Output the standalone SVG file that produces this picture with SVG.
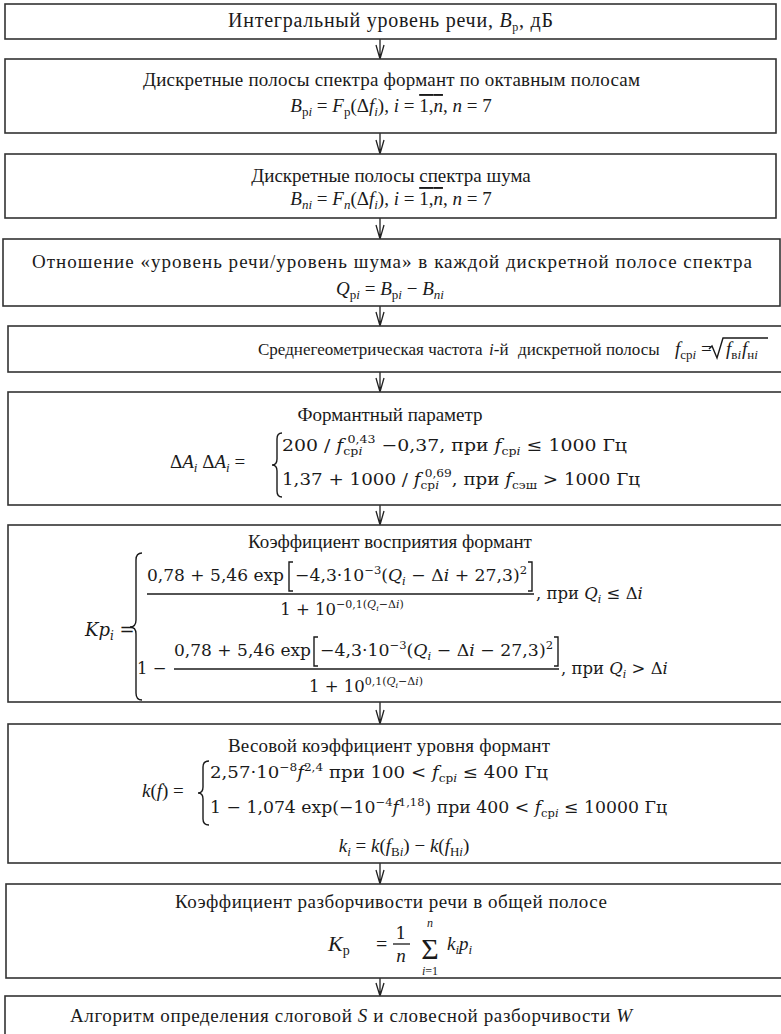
<svg xmlns="http://www.w3.org/2000/svg" width="781" height="1034" viewBox="0 0 781 1034">
<style>
.box{fill:#fff;stroke:#333;stroke-width:1.6}
.t{font-family:"Liberation Serif",serif;fill:#1a1a1a}
.m{font-family:"DejaVu Serif",serif;fill:#1a1a1a}
.i{font-style:italic}
.br{fill:none;stroke:#1a1a1a;stroke-width:1.4}
.bar{stroke:#1a1a1a;stroke-width:1.3}
.conn{fill:none;stroke:#222;stroke-width:1.3}
</style>
<rect width="781" height="1034" fill="#fff"/>
<g id="connectors" class="conn">
<path d="M380,39 V59 M376,45 L380,59 L384,45"/>
<path d="M380,133 V154 M376,140 L380,154 L384,140"/>
<path d="M380,218 V239 M376,225 L380,239 L384,225"/>
<path d="M380,306 V326 M376,312 L380,326 L384,312"/>
<path d="M380,372 V392 M376,378 L380,392 L384,378"/>
<path d="M380,505 V525 M376,511 L380,525 L384,511"/>
<path d="M380,702 V724 M376,710 L380,724 L384,710"/>
<path d="M380,863 V884 M376,870 L380,884 L384,870"/>
<path d="M380,978 V996 M376,983 L380,996 L384,983"/>
</g>
<g font-size="19">
<g id="n1">
<rect class="box" x="5" y="4" width="771" height="35"/>
<text class="t" x="228" y="27" font-size="20" textLength="325">Интегральный уровень речи, <tspan class="i">B</tspan><tspan font-size="12" dy="4">р</tspan><tspan dy="-4">, дБ</tspan></text>
</g>
<g id="n2">
<rect class="box" x="5" y="59" width="771" height="74"/>
<text class="t" x="143" y="86" textLength="497">Дискретные полосы спектра формант по октавным полосам</text>
<text class="t" x="391" y="112" text-anchor="middle"><tspan class="i">B</tspan><tspan font-size="13" dy="4">p<tspan class="i">i</tspan></tspan><tspan dy="-4"> = </tspan><tspan class="i">F</tspan><tspan font-size="13" dy="4">p</tspan><tspan dy="-4">(Δ</tspan><tspan class="i">f</tspan><tspan font-size="13" dy="4" class="i">i</tspan><tspan dy="-4">), </tspan><tspan class="i">i</tspan> = <tspan style="text-decoration:overline">1,<tspan class="i">n</tspan></tspan>, <tspan class="i">n</tspan> = 7</text>
</g>
<g id="n3">
<rect class="box" x="5" y="154" width="771" height="64"/>
<text class="t" x="391" y="182" text-anchor="middle">Дискретные полосы спектра шума</text>
<text class="t" x="391" y="205" text-anchor="middle"><tspan class="i">B</tspan><tspan font-size="13" dy="4" class="i">ni</tspan><tspan dy="-4"> = </tspan><tspan class="i">F</tspan><tspan font-size="13" dy="4" class="i">n</tspan><tspan dy="-4">(Δ</tspan><tspan class="i">f</tspan><tspan font-size="13" dy="4" class="i">i</tspan><tspan dy="-4">), </tspan><tspan class="i">i</tspan> = <tspan style="text-decoration:overline">1,<tspan class="i">n</tspan></tspan>, <tspan class="i">n</tspan> = 7</text>
</g>
<g id="n4">
<rect class="box" x="3" y="239" width="777" height="67"/>
<text class="t" x="32" y="268" textLength="720">Отношение  «уровень речи/уровень шума» в каждой дискретной полосе спектра</text>
<text class="t" x="390" y="295" text-anchor="middle"><tspan class="i">Q</tspan><tspan font-size="13" dy="4">p<tspan class="i">i</tspan></tspan><tspan dy="-4"> = </tspan><tspan class="i">B</tspan><tspan font-size="13" dy="4">p<tspan class="i">i</tspan></tspan><tspan dy="-4"> − </tspan><tspan class="i">B</tspan><tspan font-size="13" dy="4" class="i">ni</tspan></text>
</g>
<g id="n5">
<rect class="box" x="8" y="326" width="790" height="46"/>
<text class="t" x="258" y="355" font-size="17">Среднегеометрическая частота</text>
<text class="t" x="489" y="355" font-size="17"><tspan class="i">i</tspan>-й</text>
<text class="t" x="518" y="355" font-size="17">дискретной полосы</text>
<text class="t" x="675" y="355"><tspan class="i">f</tspan><tspan font-size="13" dy="4">ср<tspan class="i">i</tspan></tspan><tspan dy="-4"> =</tspan></text>
<path class="br" d="M709,349 L712,346 L717,358 L723,338 L768,338"/>
<text class="t" x="726" y="355"><tspan class="i">f</tspan><tspan font-size="13" dy="4">в<tspan class="i">i</tspan></tspan><tspan dy="-4" dx="1" class="i">f</tspan><tspan font-size="13" dy="4">н<tspan class="i">i</tspan></tspan></text>
</g>
<g id="n6">
<rect class="box" x="8" y="392" width="790" height="113"/>
<text class="t" x="390" y="421" text-anchor="middle" textLength="185">Формантный  параметр</text>
<text class="t" x="170" y="468">Δ<tspan class="i">A</tspan><tspan font-size="13" dy="4" class="i">i</tspan><tspan dy="-4"> Δ</tspan><tspan class="i">A</tspan><tspan font-size="13" dy="4" class="i">i</tspan><tspan dy="-4"> =</tspan></text>
<path class="br" d="M282,433 Q277,433 277,439 L277,459 Q277,465 272,465 Q277,465 277,471 L277,491 Q277,497 282,497"/>
<text class="m" x="282" y="451" font-size="16.5" textLength="345" lengthAdjust="spacingAndGlyphs">200 / <tspan class="i">f</tspan><tspan font-size="11" dy="4">ср<tspan class="i">i</tspan></tspan><tspan font-size="11" dx="-13" dy="-12">0,43</tspan><tspan dy="8"> −0,37,  при </tspan><tspan class="i">f</tspan><tspan font-size="11" dy="4">ср<tspan class="i">i</tspan></tspan><tspan dy="-4"> ≤ 1000 Гц</tspan></text>
<text class="m" x="282" y="485" font-size="16.5" textLength="358" lengthAdjust="spacingAndGlyphs">1,37 + 1000 / <tspan class="i">f</tspan><tspan font-size="11" dy="4">ср<tspan class="i">i</tspan></tspan><tspan font-size="11" dx="-13" dy="-12">0,69</tspan><tspan dy="8">, при </tspan><tspan class="i">f</tspan><tspan font-size="11" dy="4">сэш</tspan><tspan dy="-4"> &gt; 1000 Гц</tspan></text>
</g>
<g id="n7">
<rect class="box" x="8" y="525" width="790" height="177"/>
<text class="t" x="390" y="548" text-anchor="middle">Коэффициент восприятия формант</text>
<text class="m" x="85" y="636" font-size="18"><tspan class="i">Kp</tspan><tspan font-size="12" dy="4" class="i">i</tspan><tspan dy="-4"> =</tspan></text>
<path class="br" d="M142,553 Q136,553 136,560 L136,620 Q136,627 130,627 Q136,627 136,634 L136,693 Q136,700 142,700"/>
<text class="m" x="147" y="581" font-size="16.5" textLength="137" lengthAdjust="spacingAndGlyphs">0,78 + 5,46  exp</text>
<path class="br" d="M293,562 H289 V591 H293"/>
<text class="m" x="295" y="581" font-size="16.5" textLength="232" lengthAdjust="spacingAndGlyphs">−4,3·10<tspan font-size="11" dy="-7">−3</tspan><tspan dy="7">(</tspan><tspan class="i">Q</tspan><tspan font-size="11" dy="4" class="i">i</tspan><tspan dy="-4"> − Δ</tspan><tspan class="i">i</tspan> + 27,3)<tspan font-size="11" dy="-7">2</tspan></text>
<path class="br" d="M528,562 H532 V591 H528"/>
<line class="bar" x1="147" y1="594" x2="534" y2="594"/>
<text class="m" x="342" y="615" font-size="16.5" text-anchor="middle">1 + 10<tspan font-size="11" dy="-7">−0,1(</tspan><tspan font-size="11" class="i">Q</tspan><tspan font-size="8" dy="3" class="i">i</tspan><tspan font-size="11" dy="-3">−Δ</tspan><tspan font-size="11" class="i">i</tspan><tspan font-size="11">)</tspan></text>
<text class="m" x="536" y="599" font-size="16.5">, при <tspan class="i">Q</tspan><tspan font-size="11" dy="4" class="i">i</tspan><tspan dy="-4"> ≤ Δ</tspan><tspan class="i">i</tspan></text>
<text class="m" x="137" y="674" font-size="16.5">1 −</text>
<text class="m" x="174" y="656" font-size="16.5" textLength="137" lengthAdjust="spacingAndGlyphs">0,78 + 5,46  exp</text>
<path class="br" d="M318,637 H314 V666 H318"/>
<text class="m" x="320" y="656" font-size="16.5" textLength="233" lengthAdjust="spacingAndGlyphs">−4,3·10<tspan font-size="11" dy="-7">−3</tspan><tspan dy="7">(</tspan><tspan class="i">Q</tspan><tspan font-size="11" dy="4" class="i">i</tspan><tspan dy="-4"> − Δ</tspan><tspan class="i">i</tspan> − 27,3)<tspan font-size="11" dy="-7">2</tspan></text>
<path class="br" d="M554,637 H558 V666 H554"/>
<line class="bar" x1="174" y1="669" x2="559" y2="669"/>
<text class="m" x="366" y="692" font-size="16.5" text-anchor="middle">1 + 10<tspan font-size="11" dy="-7">0,1(</tspan><tspan font-size="11" class="i">Q</tspan><tspan font-size="8" dy="3" class="i">i</tspan><tspan font-size="11" dy="-3">−Δ</tspan><tspan font-size="11" class="i">i</tspan><tspan font-size="11">)</tspan></text>
<text class="m" x="561" y="674" font-size="16.5">, при <tspan class="i">Q</tspan><tspan font-size="11" dy="4" class="i">i</tspan><tspan dy="-4"> &gt; Δ</tspan><tspan class="i">i</tspan></text>
</g>
<g id="n8">
<rect class="box" x="8" y="724" width="790" height="139"/>
<text class="t" x="228" y="752" textLength="322">Весовой коэффициент уровня формант</text>
<text class="t" x="142" y="797"><tspan class="i">k</tspan>(<tspan class="i">f</tspan>) =</text>
<path class="br" d="M209,761 Q203,761 203,767 L203,787 Q203,793 198,793 Q203,793 203,799 L203,819 Q203,825 209,825"/>
<text class="m" x="210" y="778" font-size="16.5" textLength="338" lengthAdjust="spacingAndGlyphs">2,57·10<tspan font-size="11" dy="-7">−8</tspan><tspan class="i" dy="7">f</tspan><tspan font-size="11" dy="-7">2,4</tspan><tspan dy="7"> при 100 &lt; </tspan><tspan class="i">f</tspan><tspan font-size="11" dy="4">ср<tspan class="i">i</tspan></tspan><tspan dy="-4"> ≤ 400 Гц</tspan></text>
<text class="m" x="210" y="813" font-size="16.5" textLength="457" lengthAdjust="spacingAndGlyphs">1 − 1,074 exp(−10<tspan font-size="11" dy="-7">−4</tspan><tspan class="i" dy="7">f</tspan><tspan font-size="11" dy="-7">1,18</tspan><tspan dy="7">) при 400 &lt; </tspan><tspan class="i">f</tspan><tspan font-size="11" dy="4">ср<tspan class="i">i</tspan></tspan><tspan dy="-4"> ≤ 10000 Гц</tspan></text>
<text class="t" x="404" y="852" text-anchor="middle"><tspan class="i">k</tspan><tspan font-size="13" dy="4" class="i">i</tspan><tspan dy="-4"> = </tspan><tspan class="i">k</tspan>(<tspan class="i">f</tspan><tspan font-size="13" dy="4">В<tspan class="i">i</tspan></tspan><tspan dy="-4">) − </tspan><tspan class="i">k</tspan>(<tspan class="i">f</tspan><tspan font-size="13" dy="4">Н<tspan class="i">i</tspan></tspan><tspan dy="-4">)</tspan></text>
</g>
<g id="n9">
<rect class="box" x="6" y="884" width="790" height="94"/>
<text class="t" x="175" y="908" textLength="432">Коэффициент разборчивости речи в  общей полосе</text>
<text class="t" x="328" y="951" font-size="22"><tspan class="i">K</tspan><tspan font-size="14" dy="4">р</tspan></text>
<text class="t" x="376" y="951" font-size="20">=</text>
<text class="m" x="401" y="939" text-anchor="middle" font-size="17">1</text>
<line class="bar" x1="393" y1="944" x2="410" y2="944"/>
<text class="t i" x="401" y="962" text-anchor="middle">n</text>
<text class="t" x="430" y="959" text-anchor="middle" font-size="30">Σ</text>
<text class="t i" x="430" y="927" text-anchor="middle" font-size="12">n</text>
<text class="t" x="430" y="975" text-anchor="middle" font-size="12"><tspan class="i">i</tspan>=1</text>
<text class="t" x="447" y="950"><tspan class="i">k</tspan><tspan font-size="13" dy="4" class="i">i</tspan><tspan dy="-4" class="i">p</tspan><tspan font-size="13" dy="4" class="i">i</tspan></text>
</g>
<g id="n10">
<rect class="box" x="5" y="996" width="790" height="50"/>
<text class="t" x="70" y="1022" textLength="562">Алгоритм определения слоговой <tspan class="i">S</tspan> и словесной  разборчивости <tspan class="i">W</tspan></text>
</g>
</g>
</svg>
